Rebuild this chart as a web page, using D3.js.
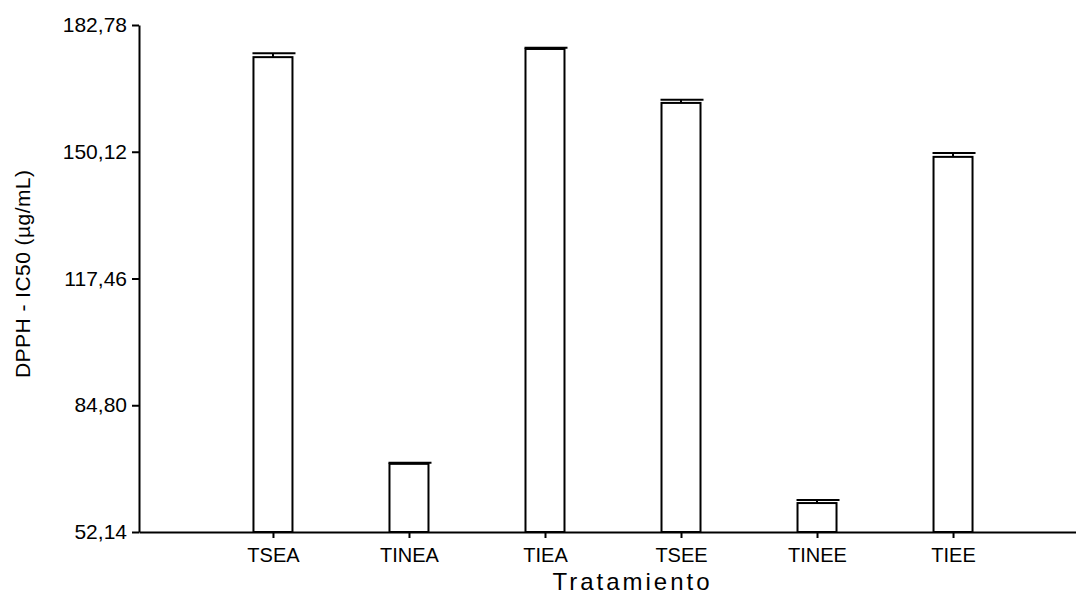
<!DOCTYPE html>
<html>
<head>
<meta charset="utf-8">
<script src="https://cdn.jsdelivr.net/npm/d3@7"></script>
<style>
  body { margin: 0; background: #fff; }
</style>
</head>
<body>
<script>
// values
var categories = ["TSEA", "TINEA", "TIEA", "TSEE", "TINEE", "TIEE"];
var means = [174.5, 69.7, 176.6, 162.7, 59.6, 148.8];
var errors = [1.0, 0.3, 0.3, 0.8, 0.8, 1.0];
var yTicks = [52.14, 84.80, 117.46, 150.12, 182.78];

var width = 1076, height = 598;
var x0 = 139, x1 = 1087, yTop = 25, yBottom = 532;
var font = "Liberation Sans, Arial, sans-serif";

var x = d3.scalePoint().domain(categories).range([x0, x1]).padding(0.985);
var y = d3.scaleLinear().domain([52.14, 182.78]).range([yBottom, yTop]);

var barW = 39;

var svg = d3.select("body").append("svg")
  .attr("width", width)
  .attr("height", height)
  .attr("font-family", font);

var data = categories.map(function (c, i) {
  return { cat: c, mean: means[i], err: errors[i] };
});

// bars
svg.append("g").selectAll("rect")
  .data(data)
  .enter().append("rect")
  .attr("x", function (d) { return x(d.cat) - barW / 2; })
  .attr("y", function (d) { return y(d.mean); })
  .attr("width", barW)
  .attr("height", function (d) { return yBottom - y(d.mean); })
  .attr("fill", "#fff")
  .attr("stroke", "#000")
  .attr("stroke-width", 2);

// error bars (upper)
var eb = svg.append("g").selectAll("g")
  .data(data)
  .enter().append("g");
eb.append("line")
  .attr("x1", function (d) { return x(d.cat); })
  .attr("x2", function (d) { return x(d.cat); })
  .attr("y1", function (d) { return y(d.mean); })
  .attr("y2", function (d) { return y(d.mean + d.err); })
  .attr("stroke", "#000").attr("stroke-width", 2);
eb.append("line")
  .attr("x1", function (d) { return x(d.cat) - barW / 2 - 1; })
  .attr("x2", function (d) { return x(d.cat) + barW / 2 + 3; })
  .attr("y1", function (d) { return y(d.mean + d.err); })
  .attr("y2", function (d) { return y(d.mean + d.err); })
  .attr("stroke", "#000").attr("stroke-width", 2);

// axes
var fmt = function (v) { return v.toFixed(2).replace(".", ","); };

var yAxis = d3.axisLeft(y).tickValues(yTicks).tickFormat(fmt)
  .tickSizeInner(7).tickSizeOuter(0).tickPadding(5);
var gy = svg.append("g")
  .attr("transform", "translate(" + x0 + ",0)")
  .call(yAxis)
  .attr("font-family", font)
  .attr("font-size", 21);
gy.selectAll("text").attr("fill", "#000");

var xAxis = d3.axisBottom(x).tickSizeInner(6).tickSizeOuter(0).tickPadding(10);
var gx = svg.append("g")
  .attr("transform", "translate(0," + yBottom + ")")
  .call(xAxis)
  .attr("font-family", font)
  .attr("font-size", 20);
gx.selectAll("text").attr("fill", "#000");

svg.selectAll(".domain, .tick line").attr("stroke", "#000").attr("stroke-width", 2);

// axis titles
svg.append("text")
  .attr("x", 631)
  .attr("y", 590)
  .attr("text-anchor", "middle")
  .attr("font-size", 24)
  .attr("textLength", 157)
  .attr("lengthAdjust", "spacing")
  .text("Tratamiento");

svg.append("text")
  .attr("transform", "translate(30,274) rotate(-90)")
  .attr("text-anchor", "middle")
  .attr("font-size", 21)
  .attr("textLength", 208)
  .attr("lengthAdjust", "spacing")
  .text("DPPH - IC50 (µg/mL)");
</script>
</body>
</html>
